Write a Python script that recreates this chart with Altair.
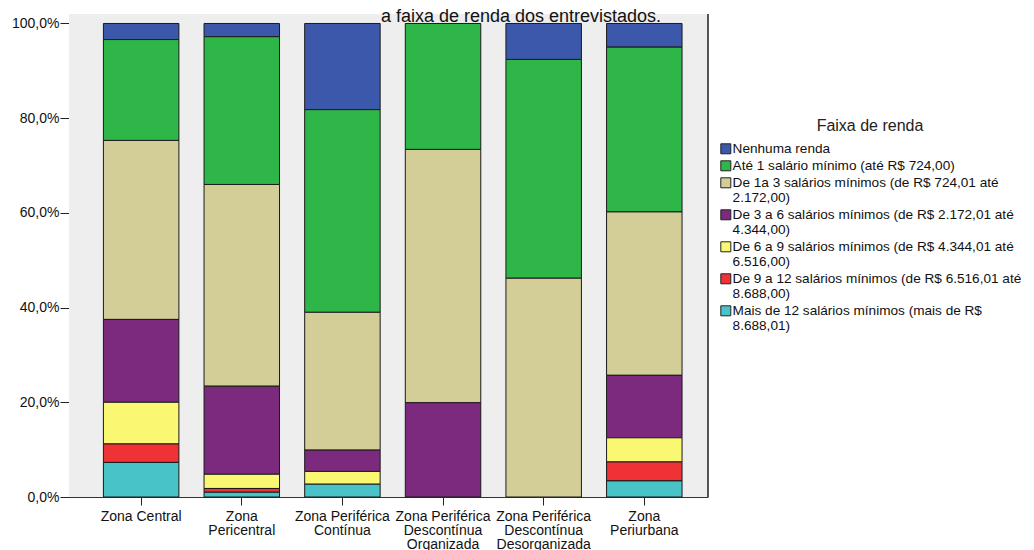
import json
import altair as alt
import pandas as pd

title_text = ["a faixa de renda dos entrevistados."]

zones = [
    "Zona Central",
    "Zona Pericentral",
    "Zona Periférica Contínua",
    "Zona Periférica Descontínua Organizada",
    "Zona Periférica Descontínua Desorganizada",
    "Zona Periurbana",
]
zone_label_lines = [
    ["Zona Central"],
    ["Zona", "Pericentral"],
    ["Zona Periférica", "Contínua"],
    ["Zona Periférica", "Descontínua", "Organizada"],
    ["Zona Periférica", "Descontínua", "Desorganizada"],
    ["Zona", "Periurbana"],
]

categories = [
    "Nenhuma renda",
    "Até 1 salário mínimo (até R$ 724,00)",
    "De 1a 3 salários mínimos (de R$ 724,01 até 2.172,00)",
    "De 3 a 6 salários mínimos (de R$ 2.172,01 até 4.344,00)",
    "De 6 a 9 salários mínimos (de R$ 4.344,01 até 6.516,00)",
    "De 9 a 12 salários mínimos (de R$ 6.516,01 até 8.688,00)",
    "Mais de 12 salários mínimos (mais de R$ 8.688,01)",
]
colors = ["#3B58AA", "#2FB648", "#D3CE98", "#7C2A7D", "#FAF772", "#EE3236", "#48C3C7"]

nenhuma = [3.4, 2.8, 18.2, 0.0, 7.6, 5.0]
ate_1 = [21.3, 31.2, 42.8, 26.6, 46.2, 34.8]
de_1_3 = [37.8, 42.6, 29.1, 53.5, 46.2, 34.5]
de_3_6 = [17.5, 18.6, 4.5, 19.9, 0.0, 13.2]
de_6_9 = [8.8, 3.0, 2.7, 0.0, 0.0, 5.1]
de_9_12 = [3.9, 0.8, 0.0, 0.0, 0.0, 4.0]
mais_12 = [7.3, 1.0, 2.7, 0.0, 0.0, 3.4]
series = [nenhuma, ate_1, de_1_3, de_3_6, de_6_9, de_9_12, mais_12]

y_ticks = [0, 20, 40, 60, 80, 100]

rows = []
for ci, (cat, vals) in enumerate(zip(categories, series)):
    for zone, v in zip(zones, vals):
        if v > 0:
            rows.append({"zona": zone, "faixa": cat, "rank": ci, "pct": v})
df = pd.DataFrame(rows)

FONT = "Liberation Sans"
label_map = json.dumps(dict(zip(zones, zone_label_lines)), ensure_ascii=False)
legend_expr = ("length(datum.label) > 40 ? [substring(datum.label, 0, lastindexof(datum.label, ' ')), "
               "substring(datum.label, lastindexof(datum.label, ' ') + 1)] : datum.label")

W, H = 639, 483
BG = "#EEEEEE"

plot_bg = alt.Chart(df).mark_rect(fill=BG, stroke=BG, strokeWidth=0).encode(
    x=alt.value(0), x2=alt.value(W), y=alt.value(0), y2=alt.value(H)
)

bars = alt.Chart(df).mark_bar(stroke="#1a1a1a", strokeWidth=1).encode(
    x=alt.X(
        "zona:N",
        sort=zones,
        scale=alt.Scale(paddingInner=0.25, paddingOuter=0.3, align=0.57),
        axis=alt.Axis(
            title=None,
            labelAngle=0,
            labelExpr=label_map + "[datum.label]",
            labelFont=FONT,
            labelFontSize=14,
            labelLineHeight=14,
            labelColor="#111",
            labelPadding=4,
            labelBaseline="top",
            tickSize=8,
            tickColor="#222",
            domainColor="#333",
            labelLimit=300,
        ),
    ),
    y=alt.Y(
        "pct:Q",
        stack="zero",
        scale=alt.Scale(domain=[0, 102], nice=False),
        axis=alt.Axis(
            title=None,
            values=y_ticks,
            grid=False,
            labelExpr="replace(format(datum.value / 100, '.1%'), '.', ',')",
            labelFont=FONT,
            labelFontSize=14,
            labelColor="#111",
            labelPadding=1,
            tickSize=9,
            tickColor="#222",
            domainColor="#333",
        ),
    ),
    color=alt.Color(
        "faixa:N",
        scale=alt.Scale(domain=categories, range=colors),
        legend=alt.Legend(
            title="Faixa de renda",
            orient="none",
            legendX=650,
            legendY=104,
            titleFont=FONT,
            titleFontSize=16,
            titleFontWeight="normal",
            titleColor="#222",
            titleAnchor="middle",
            titlePadding=8,
            labelFont=FONT,
            labelFontSize=13.6,
            labelColor="#111",
            labelOffset=0,
            labelLimit=400,
            labelExpr=legend_expr,
            symbolType="square",
            symbolSize=100,
            symbolStrokeColor="#222",
            symbolStrokeWidth=1,
            symbolOpacity=1,
            rowPadding=2,
            padding=0,
        ),
    ),
    order=alt.Order("rank:Q", sort="descending"),
)

right_border = alt.Chart(df).mark_rule(color="#555", strokeWidth=1).encode(
    x=alt.value(W), y=alt.value(0), y2=alt.value(H)
)

title = alt.Chart(pd.DataFrame({"t": title_text})).mark_text(
    font=FONT, fontSize=18, color="#111", align="center", baseline="alphabetic"
).encode(text="t:N", x=alt.value(452), y=alt.value(7.5))

chart = alt.layer(plot_bg, bars, right_border, title).properties(
    width=W,
    height=H,
    background="white",
    padding={"left": 61, "top": 6, "right": 318, "bottom": 53},
    autosize=alt.AutoSizeParams(type="none"),
).configure_view(fill=BG, strokeWidth=0)

chart.save("out.html", embed_options={"renderer": "svg", "actions": False})
